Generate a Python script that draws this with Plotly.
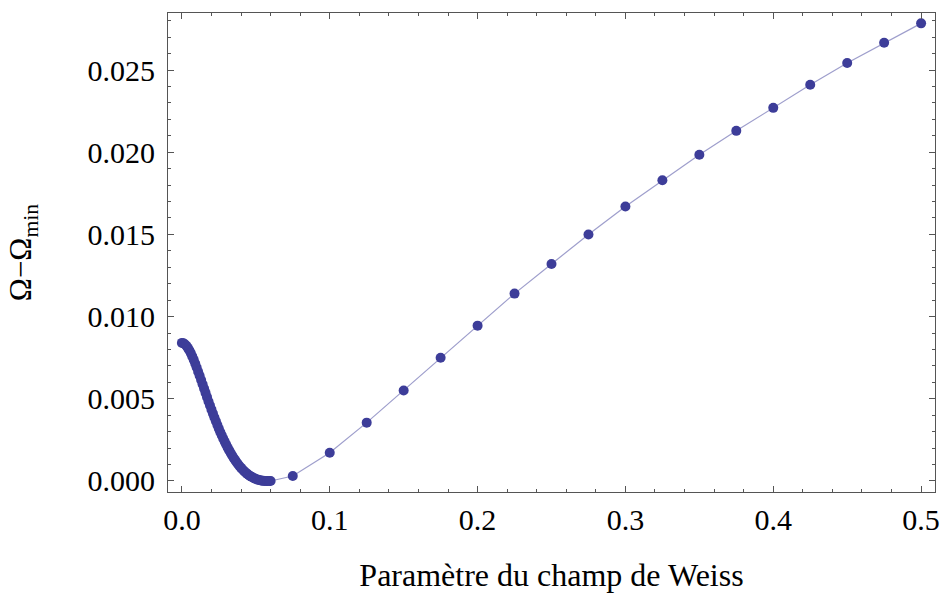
import plotly.graph_objects as go

# Dense part of the curve
x_dense = [0.000, 0.001, 0.002, 0.003, 0.004, 0.005, 0.006, 0.007, 0.008, 0.009,
           0.010, 0.011, 0.012, 0.013, 0.014, 0.015, 0.016, 0.017, 0.018, 0.019,
           0.020, 0.021, 0.022, 0.023, 0.024, 0.025, 0.026, 0.027, 0.028, 0.029,
           0.030, 0.031, 0.032, 0.033, 0.034, 0.035, 0.036, 0.037, 0.038, 0.039,
           0.040, 0.041, 0.042, 0.043, 0.044, 0.045, 0.046, 0.047, 0.048, 0.049,
           0.050, 0.051, 0.052, 0.053, 0.054, 0.055, 0.056, 0.057, 0.058, 0.059, 0.060]
y_dense = [0.00840, 0.00838, 0.00832, 0.00823, 0.00810, 0.00795, 0.00778, 0.00758, 0.00737, 0.00714,
           0.00690, 0.00665, 0.00640, 0.00614, 0.00588, 0.00562, 0.00536, 0.00510, 0.00484, 0.00459,
           0.00434, 0.00410, 0.00386, 0.00363, 0.00340, 0.00318, 0.00297, 0.00277, 0.00257, 0.00238,
           0.00220, 0.00202, 0.00186, 0.00170, 0.00155, 0.00140, 0.00127, 0.00114, 0.00102, 0.00090,
           0.00080, 0.00070, 0.00061, 0.00052, 0.00045, 0.00038, 0.00031, 0.00026, 0.00021, 0.00016,
           0.00012, 0.00009, 0.00006, 0.00004, 0.00002, 0.00001, 0.00000, 0.00000, 0.00000, 0.00000, 0.00000]

# Sparse part
x_sparse = [0.075, 0.100, 0.125, 0.150, 0.175, 0.200, 0.225, 0.250, 0.275,
            0.300, 0.325, 0.350, 0.375, 0.400, 0.425, 0.450, 0.475, 0.500]
y_sparse = [0.00030, 0.00172, 0.00355, 0.00550, 0.00750, 0.00945, 0.01140, 0.01320, 0.01500,
            0.01670, 0.01830, 0.01985, 0.02130, 0.02270, 0.02410, 0.02543, 0.02666, 0.02784]

x_ticks = [0.0, 0.1, 0.2, 0.3, 0.4, 0.5]
x_ticktext = ["0.0", "0.1", "0.2", "0.3", "0.4", "0.5"]
y_ticks = [0.000, 0.005, 0.010, 0.015, 0.020, 0.025]
y_ticktext = ["0.000", "0.005", "0.010", "0.015", "0.020", "0.025"]

x_all = x_dense + x_sparse
y_all = y_dense + y_sparse

MARK = "rgb(61,61,153)"
LINE = "rgba(61,61,153,0.5)"
FRAME = "#555555"
FONT = "Liberation Serif"

fig = go.Figure()
fig.add_trace(go.Scatter(
    x=x_all, y=y_all, mode="lines+markers",
    line=dict(color=LINE, width=1.2),
    marker=dict(color=MARK, size=10, line=dict(width=0)),
    showlegend=False, hoverinfo="skip",
))

axis_common = dict(
    showline=True, linecolor=FRAME, linewidth=1, mirror="allticks",
    ticks="inside", tickcolor=FRAME, tickwidth=1, ticklen=6,
    showgrid=False, zeroline=False,
    tickfont=dict(family=FONT, size=30, color="black"),
    ticklabeloverflow="allow",
)

fig.update_layout(
    width=944, height=596,
    margin=dict(l=168, r=4, t=13, b=104),
    paper_bgcolor="white", plot_bgcolor="white",
    font=dict(family=FONT, color="black"),
    xaxis=dict(
        range=[-0.0094, 0.5094],
        tickvals=x_ticks, ticktext=x_ticktext,
        minor=dict(dtick=0.02, tick0=0, ticks="inside", ticklen=3, tickcolor=FRAME, showgrid=False),
        title=dict(text="Paramètre du champ de Weiss", font=dict(family=FONT, size=32, color="black"), standoff=28),
        ticklabelstandoff=1,
        **axis_common,
    ),
    yaxis=dict(
        range=[-0.00067, 0.02847],
        tickvals=y_ticks, ticktext=y_ticktext,
        minor=dict(dtick=0.001, tick0=0, ticks="inside", ticklen=3, tickcolor=FRAME, showgrid=False),
        title=dict(text="Ω−Ω<sub>min</sub>", font=dict(family=FONT, size=31, color="black"), standoff=46),
        ticklabelstandoff=6,
        **axis_common,
    ),
)

fig.write_html("out.html")
